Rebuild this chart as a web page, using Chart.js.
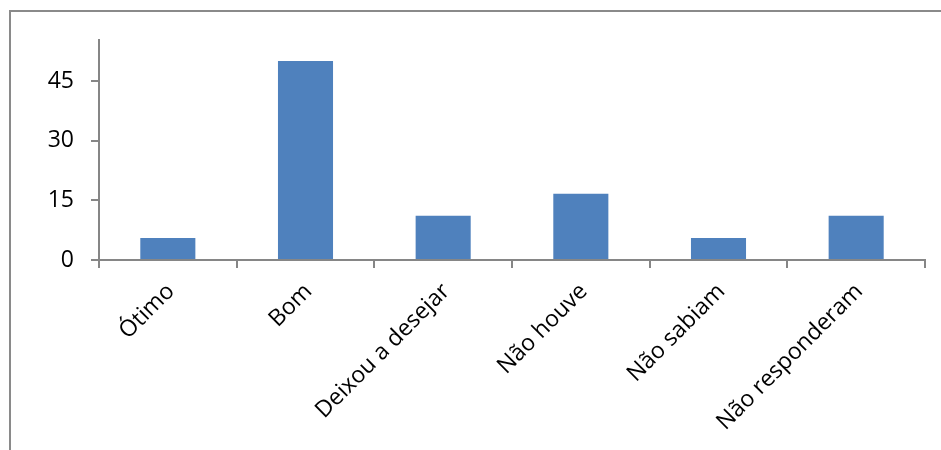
<!DOCTYPE html>
<html>
<head>
<meta charset="utf-8">
<script src="https://cdn.jsdelivr.net/npm/chart.js@4"></script>
<style>
  html, body { margin: 0; padding: 0; background: #fff; }
  #wrap { position: relative; width: 941px; height: 450px; }
  #frame { position: absolute; left: 9px; top: 10px; right: -5px; bottom: -5px;
           border-top: 2px solid #8a8a8a; border-left: 2px solid #8a8a8a; }
  canvas { position: absolute; left: 0; top: 0; }
</style>
</head>
<body>
<div id="wrap">
  <div id="frame"></div>
  <canvas id="grafico" width="941" height="450"></canvas>
</div>
<script>
// categorias e valores (percentual)
const categorias = ["Ótimo", "Bom", "Deixou a desejar", "Não houve", "Não sabiam", "Não responderam"];
const valores = [5.56, 50, 11.11, 16.67, 5.56, 11.11];
const ticksY = [0, 15, 30, 45];

const corBarra = '#4f81bd';
const corEixo = '#868686';

const ctx = document.getElementById("grafico").getContext("2d");

new Chart(ctx, {
  type: 'bar',
  data: {
    labels: categorias,
    datasets: [{
      data: valores,
      backgroundColor: corBarra,
      barPercentage: 0.4,
      categoryPercentage: 1
    }]
  },
  options: {
    responsive: false,
    animation: false,
    layout: { padding: { left: 0, right: 16, top: 40, bottom: 0 } },
    plugins: { legend: { display: false }, tooltip: { enabled: false } },
    scales: {
      x: {
        offset: true,
        grid: { offset: true, drawOnChartArea: false, drawTicks: true, tickLength: 8, color: corEixo, lineWidth: 2 },
        border: { color: corEixo, width: 2 },
        ticks: {
          color: '#000',
          font: { family: 'Open Sans', size: 23 },
          maxRotation: 45, minRotation: 45,
          labelOffset: 3,
          padding: 10,
          autoSkip: false
        },
        afterFit: s => { s.height = 190; }
      },
      y: {
        min: 0,
        max: 55.3,
        afterBuildTicks: s => { s.ticks = ticksY.map(v => ({ value: v })); },
        grid: { drawOnChartArea: false, drawTicks: true, tickLength: 8, color: corEixo, lineWidth: 2 },
        border: { color: corEixo, width: 2 },
        ticks: {
          color: '#000',
          font: { family: 'Open Sans', size: 23 },
          padding: 17
        },
        afterFit: s => { s.width = 99; }
      }
    }
  }
});
</script>
</body>
</html>
